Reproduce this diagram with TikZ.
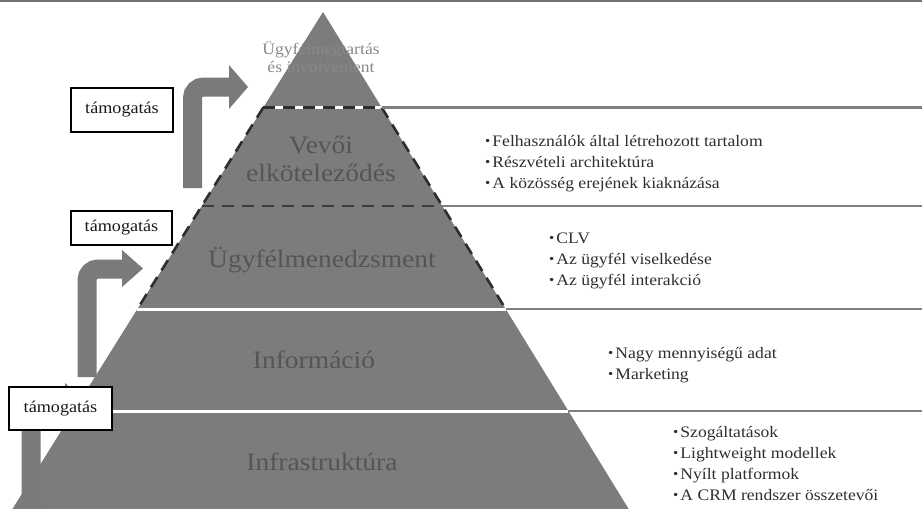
\documentclass[tikz,border=0pt]{standalone}
\usepackage{fontspec}
\setmainfont{Liberation Serif}[FakeStretch=1.1]
\usepackage{graphicx}
\definecolor{pyr}{HTML}{7C7C7C}
\definecolor{bandtxt}{HTML}{555555}
\definecolor{toptxt}{HTML}{888888}
\definecolor{bultxt}{HTML}{2E2E2E}
\definecolor{sepline}{HTML}{808080}
\definecolor{dashdark}{HTML}{2E2E2E}
\definecolor{arrowc}{HTML}{7A7A7A}
\newcommand{\bulmark}{\raisebox{1pt}{\scalebox{0.85}{•}}\hspace{2pt}}
\tikzset{
  pyramid/.style={fill=pyr, draw=none},
  whitesep/.style={draw=white, line width=3pt},
  outsep/.style={draw=sepline, line width=2.6pt},
  dashedge/.style={draw=dashdark, line width=2.6pt, dash pattern=on 12pt off 8pt},
  innerdash/.style={draw=dashdark!80!pyr, line width=2.6pt, dash pattern=on 12pt off 8pt},
  shaft/.style={draw=arrowc, line width=19pt, rounded corners=11pt},
  headtri/.style={fill=arrowc, draw=none},
  signbox/.style={draw=black, line width=1.3pt, fill=white, inner sep=0pt,
    font=\fontsize{16.5}{18}\selectfont, text=black!90},
  bandlabel/.style={anchor=base, inner sep=0pt, text=bandtxt,
    font=\fontsize{25}{28}\selectfont},
  bullets/.style={anchor=base west, inner sep=0pt, text=bultxt,
    font=\fontsize{16}{21}\selectfont},
}
\begin{document}
\begin{tikzpicture}[x=1pt,y=-1pt]
\useasboundingbox (0,0) rectangle (922,509);
% scan border at top
\draw[sepline!90!black, line width=2.5pt] (0,1) -- (922,1);

% pyramid geometry
\coordinate (apex) at (323,12);
\coordinate (bl) at (12.4,509);
\coordinate (br) at (628.7,509);
\coordinate (L1) at (263.3,107.5); \coordinate (R1) at (381.7,107.5);
\coordinate (L2) at (201.8,206);   \coordinate (R2) at (442.3,206);
\coordinate (L3) at (137.4,309);   \coordinate (R3) at (505.7,309);
\coordinate (L4) at (73.6,411);    \coordinate (R4) at (568.4,411);
\coordinate (Ld) at (139.9,305);   \coordinate (Rd) at (503.2,305);
\coordinate (E1) at (922,107.5);
\coordinate (E2) at (922,206);
\coordinate (E3) at (922,309);
\coordinate (E4) at (922,411);

\path[pyramid] (apex) -- (br) -- (bl) -- cycle;

% separators inside the pyramid
\draw[whitesep] (L3) -- (R3);
\draw[whitesep] (L4) -- (R4);
\draw[innerdash] (L2) -- (R2);
\draw[whitesep] (L1) -- (R1);
\draw[dashedge] (L1) -- (R1);
% dashed outline of the two middle levels
\draw[dashedge] (L1) -- (Ld);
\draw[dashedge] (R1) -- (Rd);

% separators outside the pyramid
\draw[outsep] (R1) -- (E1);
\draw[outsep] (R2) -- (E2);
\draw[outsep] (R3) -- (E3);
\draw[outsep] (R4) -- (E4);

% bent arrows
\coordinate (a1s) at (192.5,188);
\coordinate (a1e) at (229,87);
\draw[shaft] (a1s) |- (a1e);
\coordinate (a1t) at (229,65); \coordinate (a1p) at (248,87); \coordinate (a1b) at (229,109);
\fill[headtri] (a1t) -- (a1p) -- (a1b) -- cycle;

\coordinate (a2s) at (87,377);
\coordinate (a2e) at (123,269);
\draw[shaft] (a2s) |- (a2e);
\coordinate (a2t) at (122,250); \coordinate (a2p) at (143,268.5); \coordinate (a2b) at (122,287);
\fill[headtri] (a2t) -- (a2p) -- (a2b) -- cycle;

\coordinate (a3s) at (31,509);
\coordinate (a3e) at (66,403);
\draw[shaft] (a3s) |- (a3e);
\coordinate (a3t) at (65,383); \coordinate (a3p) at (86,403); \coordinate (a3b) at (65,423);
\fill[headtri] (a3t) -- (a3p) -- (a3b) -- cycle;

% support boxes
\node[signbox, minimum width=102pt, minimum height=44pt] (box1) at (122,110) {támogatás};
\node[signbox, minimum width=101pt, minimum height=34pt] (box2) at (121.5,228) {támogatás};
\node[signbox, minimum width=103pt, minimum height=43pt] (box3) at (60.5,408.5) {támogatás};

% pyramid labels
\node[anchor=base, inner sep=0pt, text=toptxt, font=\fontsize{16}{18}\selectfont] (top) at (321,54)
  {\begin{tabular}[t]{@{}c@{}}Ügyfélmegtartás\\és involvement\end{tabular}};
\node[bandlabel] (lev4) at (321,153)
  {\begin{tabular}[t]{@{}c@{}}Vevői\\elköteleződés\end{tabular}};
\node[bandlabel] (lev3) at (322,267) {Ügyfélmenedzsment};
\node[bandlabel] (lev2) at (314,368) {Információ};
\node[bandlabel] (lev1) at (322,470) {Infrastruktúra};

% bullet lists
\node[bullets] (g4) at (485,146)
  {\begin{tabular}[t]{@{}l@{}}\bulmark Felhasználók által létrehozott tartalom\\\bulmark Részvételi architektúra\\\bulmark A közösség erejének kiaknázása\end{tabular}};
\node[bullets] (g3) at (549,243)
  {\begin{tabular}[t]{@{}l@{}}\bulmark CLV\\\bulmark Az ügyfél viselkedése\\\bulmark Az ügyfél interakció\end{tabular}};
\node[bullets] (g2) at (608,358)
  {\begin{tabular}[t]{@{}l@{}}\bulmark Nagy mennyiségű adat\\\bulmark Marketing\end{tabular}};
\node[bullets] (g1) at (673,437)
  {\begin{tabular}[t]{@{}l@{}}\bulmark Szogáltatások\\\bulmark Lightweight modellek\\\bulmark Nyílt platformok\\\bulmark A CRM rendszer összetevői\end{tabular}};
\end{tikzpicture}
\end{document}
